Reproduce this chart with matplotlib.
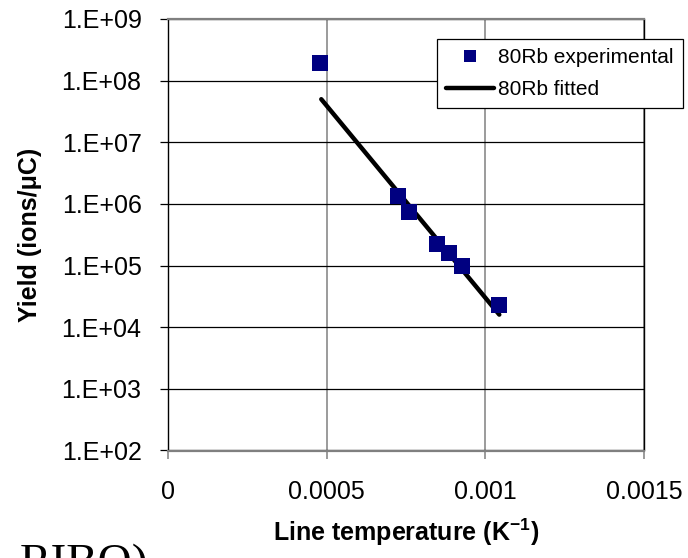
import numpy as np
import matplotlib
matplotlib.use('Agg')
import matplotlib.pyplot as plt
from matplotlib.ticker import FixedLocator, FuncFormatter

plt.rcParams['font.family'] = ['Liberation Sans', 'DejaVu Sans']
plt.rcParams['mathtext.fontset'] = 'custom'
plt.rcParams['mathtext.rm'] = 'Liberation Sans'
plt.rcParams['mathtext.bf'] = 'Liberation Sans:bold'

# data
exp_x = [0.00048, 0.000725, 0.000758, 0.000848, 0.000885, 0.000927, 0.001044]
exp_y = [1.9e8, 1.37e6, 7.4e5, 2.2e5, 1.6e5, 1.0e5, 2.3e4]

fit_x = [0.000483, 0.001044]
fit_y = [5.0e7, 1.6e4]

x_ticks = [0, 0.0005, 0.001, 0.0015]
x_labels = ['0', '0.0005', '0.001', '0.0015']
y_ticks = [1e2, 1e3, 1e4, 1e5, 1e6, 1e7, 1e8, 1e9]


def main():
	fig = plt.figure(figsize=(6.88, 5.58), dpi=100)
	ax = fig.add_axes([168/688, 1 - 450.5/558, (644-168)/688, (450.5-19)/558])

	ax.set_yscale('log')
	ax.set_xlim(0, 0.0015)
	ax.set_ylim(1e2, 1e9)

	# gridlines: horizontal black, vertical gray
	ax.yaxis.set_major_locator(FixedLocator(y_ticks))
	ax.yaxis.set_minor_locator(FixedLocator([]))
	ax.yaxis.set_major_formatter(FuncFormatter(lambda v, p: '1.E+%02d' % int(round(np.log10(v)))))
	ax.set_xticks(x_ticks)
	ax.set_xticklabels(x_labels)
	ax.grid(axis='y', color='black', lw=0.9, zorder=0)
	ax.grid(axis='x', color='#808080', lw=1.1, zorder=0)
	ax.set_axisbelow(True)

	for s in ['top', 'bottom']:
		ax.spines[s].set_color('#808080')
		ax.spines[s].set_linewidth(1.6)
	for s in ['left', 'right']:
		ax.spines[s].set_color('black')
		ax.spines[s].set_linewidth(1.0)

	ax.tick_params(axis='y', direction='out', length=6, width=0.9, color='black', labelsize=18, pad=13)
	ax.tick_params(axis='x', direction='out', length=6, width=1.1, color='#808080', labelsize=18, pad=15)

	ax.plot(fit_x, fit_y, color='black', lw=3.2, solid_capstyle='round', label='80Rb fitted', zorder=3)
	ax.plot(exp_x, exp_y, 's', color='#000080', markersize=11.5, markeredgewidth=0, label='80Rb experimental', zorder=4)

	ax.set_ylabel('Yield (ions/\u03bcC)', fontsize=18, fontweight='bold', labelpad=14)
	ax.set_xlabel(r'Line temperature (K$^{\mathbf{-1}}$)', fontsize=18, fontweight='bold', labelpad=9)

	# legend sits partly outside the plot area, as in the original
	handles, labels = ax.get_legend_handles_labels()
	leg = ax.legend(handles[::-1], labels[::-1], loc='upper right',
		bbox_to_anchor=(683/688, 1 - 39/558), bbox_transform=fig.transFigure,
		borderaxespad=0, fancybox=False, framealpha=1, edgecolor='black',
		fontsize=15, handlelength=2.3, handletextpad=0.2, markerscale=0.8,
		labelspacing=0.6, borderpad=0.45)
	leg.get_frame().set_linewidth(0.9)

	# cut-off slide text at bottom left
	fig.text(20/688, 1 - 576/558, 'RIBO)', fontsize=34, family='Liberation Serif', va='baseline')

	fig.savefig('out.png', dpi=100)


if __name__ == "__main__":
	main()
